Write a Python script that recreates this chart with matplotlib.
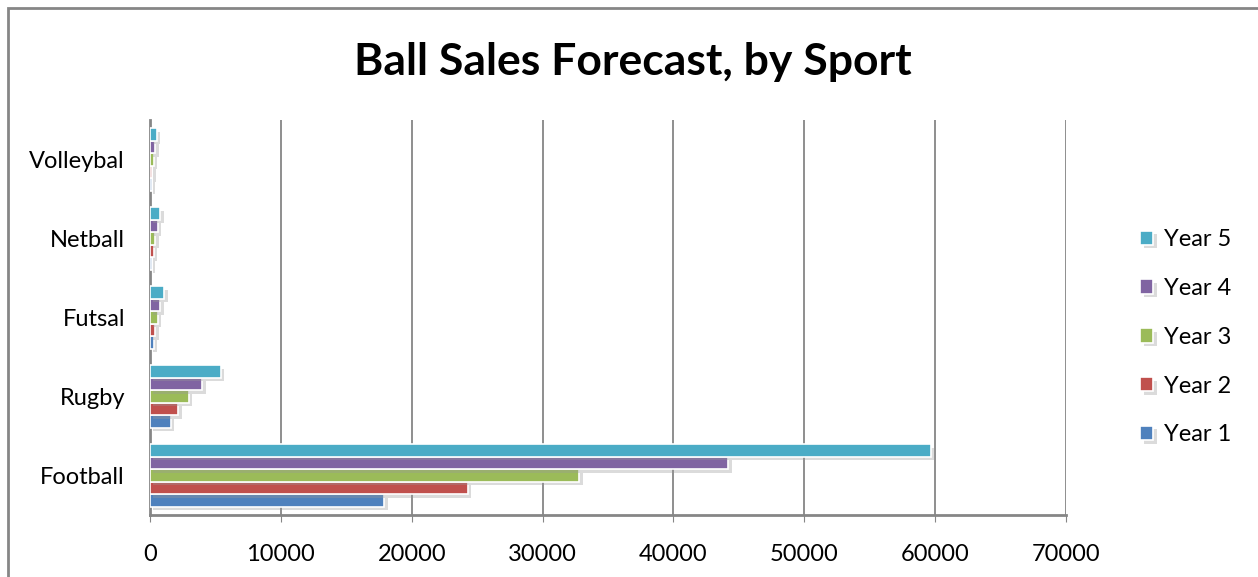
import matplotlib.pyplot as plt
import matplotlib.patheffects as pe
from matplotlib.patches import Rectangle
import numpy as np

plt.rcParams['font.family'] = ['Lato', 'DejaVu Sans']

sports = ['Football', 'Rugby', 'Futsal', 'Netball', 'Volleybal']
years = ['Year 1', 'Year 2', 'Year 3', 'Year 4', 'Year 5']
year1 = [17900, 1580, 300, 150, 120]
year2 = [24300, 2170, 420, 270, 190]
year3 = [32800, 2950, 600, 420, 270]
year4 = [44200, 4000, 800, 590, 420]
year5 = [59700, 5400, 1100, 800, 530]
colors = ['#4F81BD', '#C0504D', '#9BBB59', '#8064A2', '#4BACC6']

fig = plt.figure(figsize=(12.58, 5.77), dpi=100)
ax = fig.add_axes([150/1258, 62/577, 916/1258, 395/577])

# outer chart border
fig.patches.append(Rectangle((8/1258, -0.01), 1.2, (577-8)/577 + 0.01, transform=fig.transFigure,
                             fill=False, edgecolor='#868686', linewidth=2))

y = np.arange(len(sports))
h = 0.157
shadow = [pe.SimplePatchShadow(offset=(2.5, -2.5), shadow_rgbFace='#999999', alpha=0.35), pe.Normal()]
bars = []
for i, vals in enumerate([year1, year2, year3, year4, year5]):
    b = ax.barh(y + (i - 2) * h, vals, height=h, color=colors[i], edgecolor='white',
                linewidth=1.2, label=years[i], zorder=3)
    for p in b:
        p.set_path_effects(shadow)
    bars.append(b)

ax.set_xlim(0, 70000)
ax.set_ylim(-0.5, 4.5)
ax.set_xticks(np.arange(0, 70001, 10000))
ax.set_yticks(y)
ax.set_yticklabels(sports)
ax.grid(axis='x', color='#868686', linewidth=1.3, zorder=0)
for s in ['top', 'right']:
    ax.spines[s].set_visible(False)
for s in ['left', 'bottom']:
    ax.spines[s].set_color('#868686')
    ax.spines[s].set_linewidth(2)
ax.tick_params(axis='x', length=5, color='#868686', labelsize=17, pad=16)
ax.tick_params(axis='y', length=0, labelsize=17, pad=18)

fig.text(633/1258, 1 - 62/577, 'Ball Sales Forecast, by Sport', ha='center', va='center',
         fontsize=32, fontweight='bold')

leg = ax.legend(handles=bars[::-1], labels=years[::-1], loc='center left',
                bbox_to_anchor=(1.058, 0.45), frameon=False, fontsize=17,
                handlelength=0.55, handleheight=0.55, handletextpad=0.45, labelspacing=1.18)

fig.savefig('out.png', dpi=100)
